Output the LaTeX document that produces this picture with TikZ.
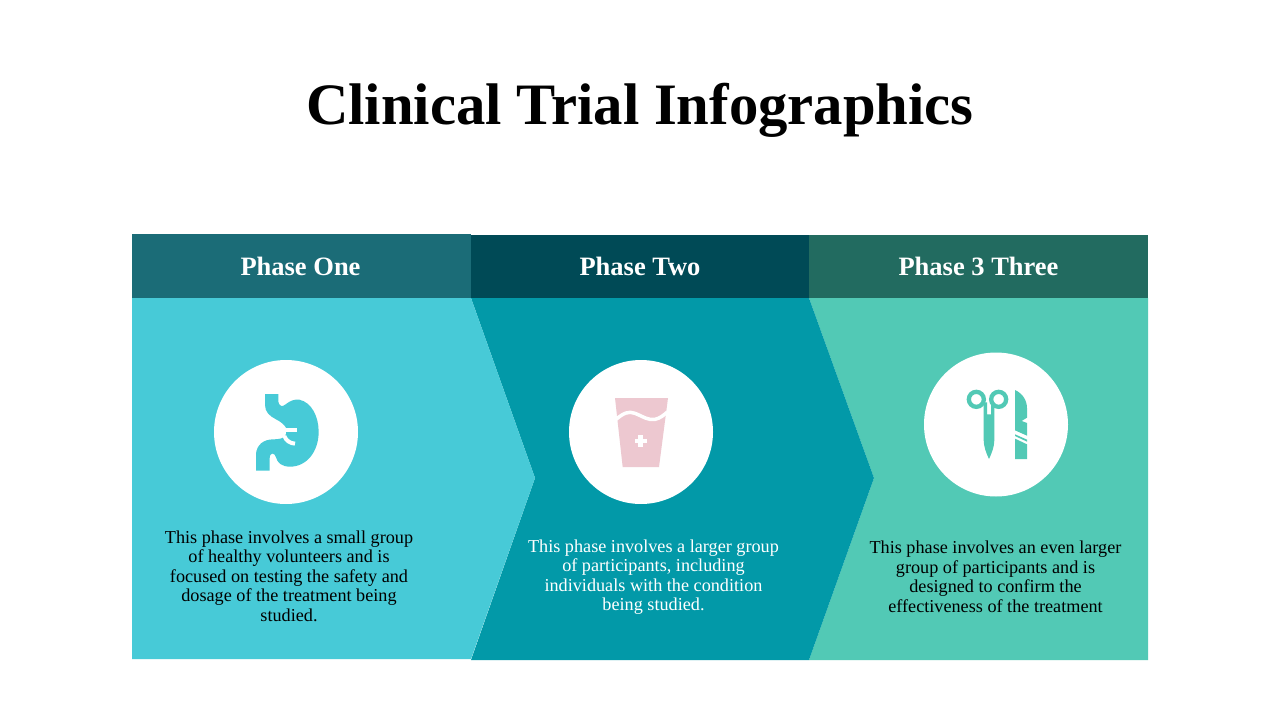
\documentclass[tikz,border=0pt]{standalone}
\usepackage{fontspec}
\setmainfont{Liberation Serif}
\definecolor{skyband}{HTML}{47CAD7}
\definecolor{tealband}{HTML}{0299A8}
\definecolor{mintband}{HTML}{52C9B5}
\definecolor{skyhead}{HTML}{1B6C77}
\definecolor{tealhead}{HTML}{004A56}
\definecolor{minthead}{HTML}{226B60}
\definecolor{cuppink}{HTML}{EDC8D0}
\tikzset{
    headtext/.style={text=white,font=\fontsize{26.5}{30}\selectfont\bfseries},
    bodytext/.style={align=center,font=\fontsize{18.2}{19.5}\selectfont},
    disc/.style={circle,fill=white,minimum size=144pt,inner sep=0pt},
}
\begin{document}
\begin{tikzpicture}[x=1pt,y=-1pt]
    \useasboundingbox [fill=white] (0,0) rectangle (1280,720);
    % bands, last one first so the tips overlap
    \fill [mintband] (809,298) -- (1148,298) -- (1148,660) -- (809,660) -- (874,478) -- cycle;
    \fill [tealband] (471,298) -- (809,298) -- (874,478) -- (809,660) -- (471,660) -- (535,478) -- cycle;
    \fill [skyband] (132,298) -- (471,298) -- (535,478) -- (471,659) -- (132,659) -- cycle;
    \fill [skyhead] (132,234) rectangle (471,298);
    \fill [tealhead] (471,235) rectangle (809,298);
    \fill [minthead] (809,235) rectangle (1148,298);

    \node [font=\fontsize{58.7}{64}\selectfont\bfseries] (title) at (640,110) {Clinical Trial Infographics};
    \node [headtext] (headone) at (300.5,266) {Phase One};
    \node [headtext] (headtwo) at (640,266) {Phase Two};
    \node [headtext] (headthree) at (978.5,266) {Phase 3 Three};

    \node [disc] (discone) at (286,432) {};
    \node [disc] (disctwo) at (641,432) {};
    \node [disc] (discthree) at (996,424.5) {};

    \node [bodytext,text=black] (textone) at (289,576) {This phase involves a small group\\of healthy volunteers and is\\focused on testing the safety and\\dosage of the treatment being\\studied.};
    \node [bodytext,text=white] (texttwo) at (653.5,577) {This phase involves a larger group\\of participants, including\\individuals with the condition\\being studied.};
    \node [bodytext,text=black] (textthree) at (995.5,577) {This phase involves an even larger\\group of participants and is\\designed to confirm the\\effectiveness of the treatment};

    % stomach
    \begin{scope}[shift={(200,350)},scale=1/3]
        \fill [skyband] (195,132) -- (235,132) -- (235,155)
            .. controls (237,168) and (247,172) .. (257,163)
            .. controls (270,152) and (285,147) .. (298,149)
            .. controls (335,157) and (356,200) .. (356,245)
            .. controls (356,305) and (320,350) .. (270,350)
            .. controls (245,350) and (232,338) .. (228,322)
            .. controls (225,308) and (209,305) .. (209,325)
            -- (209,362) -- (168,362) -- (168,312)
            .. controls (170,285) and (190,268) .. (220,268)
            .. controls (235,268) and (256,266) .. (258,252)
            -- (260,236)
            .. controls (252,222) and (240,214) .. (228,208)
            .. controls (208,198) and (195,185) .. (195,165) -- cycle;
        \draw [white,line width=4pt] (256,240) -- (290,240);
        \draw [white,line width=4pt] (253,258) .. controls (258,272) and (270,280) .. (285,281);
    \end{scope}

    % cup
    \begin{scope}[shift={(560,350)},scale=1/3]
        \fill [cuppink] (165,144) -- (324,144) -- (297,351) -- (188,351) -- cycle;
        \draw [white,line width=3.5pt] (168,208) .. controls (190,190) and (205,182) .. (225,190)
            .. controls (250,200) and (265,212) .. (285,208)
            .. controls (300,205) and (312,195) .. (322,186);
        \fill [white] (235,255) rectangle (249,291);
        \fill [white] (224,266) rectangle (261,280);
    \end{scope}

    % scissors and scalpel
    \begin{scope}[shift={(915,345)},scale=1/3]
        \draw [mintband,line width=4.3pt] (184,163) circle [radius=22.5];
        \draw [mintband,line width=4.3pt] (251,163) circle [radius=22.5];
        \fill [mintband] (206,172) -- (216,172) -- (216,208) -- (228,208) -- (228,172) -- (238,172)
            -- (238,285) .. controls (238,305) and (230,325) .. (222,342)
            .. controls (214,325) and (206,305) .. (206,285) -- cycle;
        \fill [mintband] (300,135) .. controls (322,145) and (336,165) .. (336,190)
            -- (336,218) -- (320,228) -- (336,234) -- (336,272) -- (300,256) -- cycle;
        \fill [mintband] (300,268) -- (336,284) -- (336,290) -- (300,273) -- cycle;
        \fill [mintband] (300,281) -- (336,298) -- (336,342) -- (300,342) -- cycle;
    \end{scope}
\end{tikzpicture}
\end{document}
